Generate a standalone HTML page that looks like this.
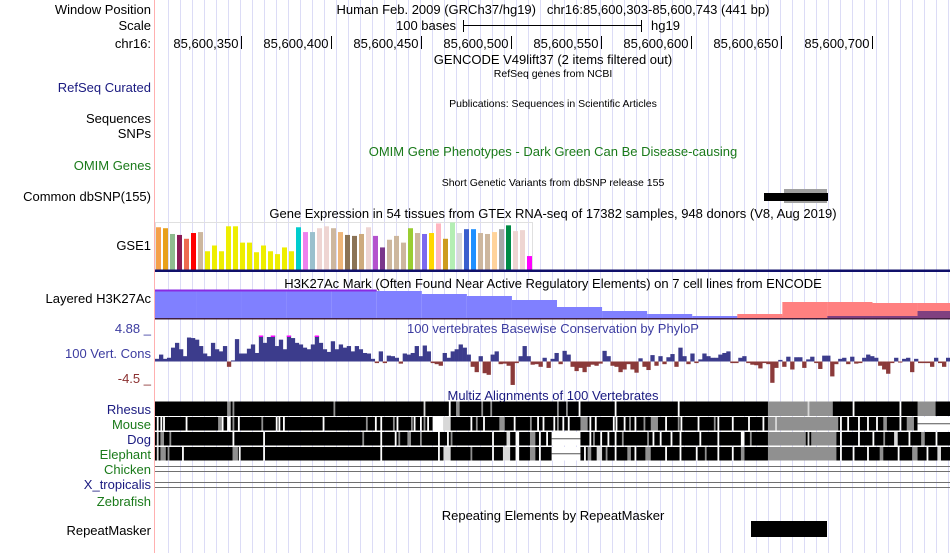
<!DOCTYPE html>
<html><head><meta charset="utf-8">
<style>
html,body{margin:0;padding:0;background:#fff;}
svg{display:block;font-family:"Liberation Sans",sans-serif;}
</style></head>
<body>
<svg id="chart" width="950" height="553" viewBox="0 0 950 553" xmlns="http://www.w3.org/2000/svg">
<g id="guides"></g>
<line x1="154.5" y1="0" x2="154.5" y2="553" stroke="#ffb0b0"/>
<g font-size="13" text-anchor="end">
<text x="151" y="14">Window Position</text>
<text x="151" y="30">Scale</text>
<text x="151" y="48">chr16:</text>
<text x="151" y="92" fill="#1a1a80">RefSeq Curated</text>
<text x="151" y="123">Sequences</text>
<text x="151" y="138">SNPs</text>
<text x="151" y="170" fill="#1a7a1a">OMIM Genes</text>
<text x="151" y="201">Common dbSNP(155)</text>
<text x="151" y="250">GSE1</text>
<text x="151" y="303">Layered H3K27Ac</text>
<text x="151" y="333" fill="#3c3ca0">4.88 _</text>
<text x="151" y="358" fill="#3c3ca0">100 Vert. Cons</text>
<text x="151" y="383" fill="#8b3030">-4.5 _</text>
<text x="151" y="414" fill="#1a1a80">Rhesus</text>
<text x="151" y="429" fill="#1a7a1a">Mouse</text>
<text x="151" y="444" fill="#1a1a80">Dog</text>
<text x="151" y="459" fill="#1a7a1a">Elephant</text>
<text x="151" y="474" fill="#1a7a1a">Chicken</text>
<text x="151" y="489" fill="#1a1a80">X_tropicalis</text>
<text x="151" y="506" fill="#1a7a1a">Zebrafish</text>
<text x="151" y="535">RepeatMasker</text>
</g>
<g text-anchor="middle">
<text x="553" y="14" font-size="13">Human Feb. 2009 (GRCh37/hg19)&#160;&#160;&#160;chr16:85,600,303-85,600,743 (441 bp)</text>
<text x="553" y="64" font-size="13">GENCODE V49lift37 (2 items filtered out)</text>
<text x="553" y="77" font-size="10.5">RefSeq genes from NCBI</text>
<text x="553" y="107" font-size="10.5">Publications: Sequences in Scientific Articles</text>
<text x="553" y="156" font-size="13" fill="#1a7a1a">OMIM Gene Phenotypes - Dark Green Can Be Disease-causing</text>
<text x="553" y="186" font-size="10.5">Short Genetic Variants from dbSNP release 155</text>
<text x="553" y="218" font-size="13">Gene Expression in 54 tissues from GTEx RNA-seq of 17382 samples, 948 donors (V8, Aug 2019)</text>
<text x="553" y="288" font-size="13">H3K27Ac Mark (Often Found Near Active Regulatory Elements) on 7 cell lines from ENCODE</text>
<text x="553" y="333" font-size="13" fill="#3c3ca0">100 vertebrates Basewise Conservation by PhyloP</text>
<text x="553" y="400" font-size="13" fill="#1a1a80">Multiz Alignments of 100 Vertebrates</text>
<text x="553" y="520" font-size="13">Repeating Elements by RepeatMasker</text>
</g>
<g>
<text x="456" y="30" font-size="13" text-anchor="end">100 bases</text>
<line x1="463.5" y1="20" x2="463.5" y2="32" stroke="#000"/>
<line x1="463" y1="25.5" x2="642" y2="25.5" stroke="#000"/>
<line x1="641.5" y1="20" x2="641.5" y2="32" stroke="#000"/>
<text x="651" y="30" font-size="13">hg19</text>
</g>
<g id="ruler"></g>
<g>
<rect x="784" y="189" width="43" height="14" fill="#a0a0a0"/>
<rect x="764" y="193" width="64" height="8" fill="#000"/>
</g>
<rect x="155.5" y="222.5" width="377" height="48" fill="none" stroke="#e0e0e0"/>
<g id="gtex"></g>
<rect x="155" y="269.5" width="795" height="2.5" fill="#10106a"/>
<g id="h3k"></g>
<g id="cons"></g>
<g id="multiz"></g>
<rect x="751" y="521" width="76" height="16" fill="#000"/>
</svg>
<script>
var NS="http://www.w3.org/2000/svg";
var START_BP=85600303, N_BP=441, X0=155, X1=950;
function xScale(bp){return X0+(bp)*(X1-X0)/N_BP;}
function mk(tag,attrs,parent){var e=document.createElementNS(NS,tag);for(var k in attrs)e.setAttribute(k,attrs[k]);parent.appendChild(e);return e;}

/* ruler */
var rulerTicks=[85600350,85600400,85600450,85600500,85600550,85600600,85600650,85600700];
var rulerLabels=["85,600,350","85,600,400","85,600,450","85,600,500","85,600,550","85,600,600","85,600,650","85,600,700"];
/* GTEx */
var gtexValues=[44,43,37,36,32,38,39,19,25,19,45,45,28,28,18,25,19,16,23,19,44,39,39,43,45,43,39,36,35,37,44,35,23,31,35,28,43,38,37,38,48,32,49,38,42,42,38,37,39,42,46,40,41,14];
var gtexColors=["#f5a04a","#e8a01a","#8fbc8f","#8b1a55","#ee6a50","#ff0000","#cdb79e","#eeee00","#eeee00","#eeee00","#eeee00","#eeee00","#eeee00","#eeee00","#eeee00","#eeee00","#eeee00","#eeee00","#eeee00","#eeee00","#00cdcd","#ee82ee","#9ac0cd","#eed5d2","#eed5d2","#cdb79e","#eeb67a","#8b7355","#8b7355","#cdaa7d","#eed5d2","#b452cd","#7a378b","#cdb79e","#cdb79e","#cdb79e","#9acd32","#cdb79e","#7b68ee","#ffd700","#ffb6c1","#cd9b1d","#b4eeb4","#d9d9d9","#3a5fcd","#1e90ff","#cdb79e","#cdb79e","#ffd39b","#a6a6a6","#008b45","#eed5d2","#eed5d2","#ff00ff"];
/* H3K27Ac layers, 25bp bins starting at bp -2 */
var h3kBlue=[27,27,27,27,27,27,24,22,18,11,7,4,2,2,2,2,2,2];
var h3kPink=[0,0,0,0,0,0,0,0,0,0,0,0,0,4,16,16,15,15];
var h3kPurple=[0,0,0,0,0,0,0,0,0,0,0,0,0,0,0,2,2,7];
/* PhyloP scores, one per bin */
var phylop=[0.5,1.3,0.5,0.7,2.6,3.5,2.3,1.0,4.5,4.4,4.1,2.9,1.5,1.0,3.5,2.3,1.9,2.9,-1.0,0.2,4.2,1.5,1.5,2.4,3.2,1.6,4.9,3.5,4.6,4.9,2.9,4.1,2.3,4.9,4.4,3.5,3.2,2.6,2.3,3.2,4.8,3.5,2.3,1.8,3.8,2.3,3.2,2.6,2.9,1.9,
2.9,2.3,1.6,1.5,0.5,-0.3,1.9,-0.3,1.1,1.0,0.7,-0.4,1.5,1.3,1.6,2.9,1.0,3.0,1.9,-0.3,-0.5,-0.8,1.6,0.7,1.9,2.3,3.2,2.6,1.3,-1.0,-2.0,1.0,-2.2,-2.5,1.3,1.9,-0.5,-0.4,-0.8,-4.4,-0.3,1.0,2.9,1.0,-0.6,-0.5,-1.0,0.7,-1.2,0.5,
1.6,-0.5,2.0,1.3,-1.0,-1.8,-1.2,-2.0,-1.0,-0.6,-0.8,-0.4,2.0,1.0,-0.8,-1.0,-2.0,-1.5,-0.5,-1.5,-2.1,0.6,-1.0,-1.6,1.2,-0.8,1.0,-0.5,0.8,1.4,-1.0,2.6,1.0,-0.5,1.5,-0.3,0.4,1.5,1.0,0.7,0.7,1.3,1.6,1.9,-0.3,-0.3,0.7,1.0,-0.3,-0.6,
-0.7,-1.3,-0.3,-0.5,-4.0,-1.2,0.3,-1.0,0.9,-1.5,0.8,0.8,-1.2,0.4,0.9,-0.3,-1.4,1.1,1.1,-2.8,-0.5,0.5,0.7,-0.5,0.9,-0.4,-0.3,0.7,1.3,1.0,0.7,-0.8,-1.5,-2.3,-0.3,0.7,-0.2,0.5,0.7,-2.0,0.5,-0.3,-0.3,-0.3,-1.0,0.7,-0.3,-1.0,0.7];
var consMax=4.88, consMin=-4.5;
/* Multiz: [startBp, endBp, kind] kind: g=gray, w=white, l=light, n=line(gap) */
var rhesusExtent=[0,441];
var rhesusBlocks=[[40,42,"g"],[43,44,"g"],[99,100,"g"],[149,150,"l"],[163,164,"w"],[167,169,"g"],[181,182,"g"],[186,187,"g"],[223,224,"g"],[228,229,"g"],[235,236,"w"],[255,256,"w"],[290,291,"w"],[340,376,"g"],[362,363,"l"],[387,388,"w"],[413,414,"w"],[423,433,"g"]];
var mouseExtent=[0,423];
var mouseBlocks=[[1,2,"w"],[3,4,"w"],[4.5,5.5,"w"],[17,18,"w"],[35,37,"g"],[37,38,"w"],[40,42,"w"],[43,44,"g"],[46,47,"w"],[59,60,"g"],[67,68,"w"],[68.5,69.5,"w"],[71,72,"w"],[93,94,"w"],[117,118,"g"],[122,123,"w"],[125,126,"w"],[132,133,"g"],[134,135,"w"],[142,143,"g"],[143.5,144.5,"w"],[147,148,"w"],[149,150,"g"],[151,152,"w"],[154,160,"w"],[160,164,"l"],[175,176,"w"],[178,179,"g"],[182,183,"w"],[191,194,"g"],[199,200,"w"],[208,209,"g"],[212,213,"w"],[215,216,"w"],[221,222,"w"],[223,224,"g"],[226,227,"w"],[229,230,"w"],[236,240,"g"],[241,242,"w"],[244,245,"w"],[254,255,"w"],[255.5,256.5,"w"],[260,261,"w"],[263,264,"g"],[266,267,"w"],[271,272,"g"],[275,279,"g"],[283,284,"w"],[290,291,"g"],[291.5,292.5,"w"],[301,302,"w"],[310,311,"g"],[312,313,"w"],[320,321,"w"],[329,330,"w"],[337,338,"w"],[340,379,"g"],[344,345,"l"],[380,381,"w"],[384,385,"w"],[390,391,"w"],[395,396,"w"],[400,401,"w"],[404,406,"g"],[413,414,"w"],[417,421,"g"],[423,441,"n"]];
var dogExtent=[0,441];
var dogBlocks=[[1,2,"l"],[3,5,"g"],[8,9,"g"],[43,44,"w"],[60,61,"w"],[115,116,"g"],[125,126,"w"],[133,134,"w"],[135,136,"g"],[140,142,"g"],[147,148,"g"],[157,158,"w"],[162,163,"w"],[164,165,"g"],[187,188,"w"],[195,197,"l"],[200,202,"w"],[208,211,"g"],[213,214,"w"],[217,218,"w"],[220,236,"n"],[241,242,"w"],[243,244,"g"],[247,248,"w"],[251,252,"w"],[255,256,"w"],[259,260,"g"],[273,274,"g"],[276,277,"w"],[280,281,"w"],[286,287,"w"],[291,292,"w"],[302,303,"w"],[312,313,"w"],[325,327,"w"],[330,331,"g"],[340,361,"g"],[362,363,"l"],[364,378,"g"],[380,381,"w"],[390,391,"w"],[398,399,"w"],[404,405,"g"],[410,412,"l"],[418,419,"w"],[425,427,"g"],[433,434,"w"]];
var elephantExtent=[0,441];
var elephantBlocks=[[1,2,"l"],[3,6,"g"],[7,8,"g"],[15,16,"w"],[43,46,"g"],[46.5,47.5,"w"],[60,61,"w"],[125,126,"w"],[157,158,"w"],[160,164,"l"],[175,176,"g"],[187,188,"w"],[193,197,"l"],[200,202,"w"],[208,211,"g"],[213,214,"w"],[220,236,"n"],[238,239,"w"],[240,242,"g"],[245,248,"l"],[250,251,"g"],[255,256,"w"],[262,264,"g"],[266,267,"w"],[272,275,"g"],[283,284,"w"],[291,292,"w"],[300,301,"w"],[305,306,"g"],[312,313,"w"],[320,321,"w"],[325,327,"g"],[340,378,"g"],[380,381,"w"],[387,388,"w"],[395,396,"w"],[402,404,"g"],[412,413,"w"],[420,423,"g"],[428,429,"w"],[434,436,"l"]];

/* guides */
var gG=document.getElementById('guides');
for(var gx=168;gx<950;gx+=12){
  var gl=mk('line',{x1:gx+0.5,y1:0,x2:gx+0.5,y2:553,stroke:'#dcdcf6'},gG);
  
  
}
/* ruler */
var rG=document.getElementById('ruler');
rulerTicks.forEach(function(t,i){
  var x=Math.round(xScale(t-START_BP+0.5))+0.5;
  var tk=mk('line',{x1:x,y1:36,x2:x,y2:49,stroke:'#000'},rG);
  
  
  var tx=mk('text',{x:x-3,y:48,'font-size':13,'text-anchor':'end'},rG);
  tx.textContent=rulerLabels[i];
  
  
});
/* gtex */
var gtG=document.getElementById('gtex');
var gtexMax=50, gtexH=48, gtexBase=269.5, gtexStep=7;
gtexValues.forEach(function(v,i){
  var h=v/gtexMax*gtexH;
  var b=mk('rect',{x:156+i*gtexStep,y:gtexBase-h,width:5,height:h,fill:gtexColors[i]},gtG);
  
  
});
/* h3k27ac */
var hG=document.getElementById('h3k');
var hBase=318;
function layer(arr,color,name){
  arr.forEach(function(v,i){
    if(v<=0)return;
    var xa=Math.max(X0,xScale(-2+i*25)), xb=Math.min(X1,xScale(-2+(i+1)*25));
    var r=mk('rect',{x:xa,y:hBase-v,width:xb-xa,height:v,fill:color},hG);
    
    
  });
}
layer(h3kBlue,'#8080ff','h3k27ac-huvec-layer');
layer(h3kPink,'#ff8080','h3k27ac-nhek-layer');
layer(h3kPurple,'#804080','h3k27ac-overlap-layer');
(function(){
  var xb=xScale(-2+5*25);
  var pl=mk('rect',{x:X0,y:hBase-h3kBlue[0]-1.5,width:xb-X0,height:2,fill:'#8a2be2'},hG);
  
  
  var bl=mk('rect',{x:X0,y:hBase,width:X1-X0,height:1.5,fill:'#402040'},hG);
  
  
})();
/* conservation */
var cG=document.getElementById('cons');
var zeroY=361.5, pxPerUnit=26/4.88;
function consY(v){return zeroY-v*pxPerUnit;}
var binW=(X1-X0)/phylop.length;
phylop.forEach(function(v,i){
  var x=X0+i*binW;
  var vv=Math.max(consMin,Math.min(consMax,v));
  var h=Math.abs(consY(vv)-zeroY);
  if(h<1)h=1;
  var r=mk('rect',{x:x,y:vv>=0?zeroY-h:zeroY,width:binW+0.3,height:h,fill:v>=0?'#3c3c8c':'#8b3a3a'},cG);
  
  
  if(v>=consMax-0.1){
    var m=mk('rect',{x:x,y:consY(consMax),width:binW,height:1.5,fill:'#ff00ff'},cG);
    
    
  }
});
/* multiz */
var mG=document.getElementById('multiz');
var kindColor={g:'#909090',w:'#ffffff',l:'#d8d8d8'};
function row(extent,blocks,y0,h,name){
  var a=xScale(extent[0]), b=xScale(extent[1]);
  var r=mk('rect',{x:a,y:y0,width:b-a,height:h,fill:'#000'},mG);
  
  
  blocks.forEach(function(bk){
    var xa=xScale(bk[0]), xb=xScale(bk[1]);
    if(bk[2]==='n'){
      var w=mk('rect',{x:xa,y:y0,width:xb-xa,height:h,fill:'#fff'},mG);
      
      
      var ln=mk('line',{x1:xa,y1:y0+h/2,x2:xb,y2:y0+h/2,stroke:'#555'},mG);
      
      
    } else {
      var s=mk('rect',{x:xa,y:y0,width:Math.max(1,xb-xa),height:h,fill:kindColor[bk[2]]},mG);
      
      
    }
  });
}
row(rhesusExtent,rhesusBlocks,401.5,14.5,'rhesus');
row(mouseExtent,mouseBlocks,417,13.5,'mouse');
row(dogExtent,dogBlocks,432,13.5,'dog');
row(elephantExtent,elephantBlocks,447,13.5,'elephant');
[466,471,482,487].forEach(function(y){
  var ln=mk('line',{x1:X0,y1:y+0.5,x2:X1,y2:y+0.5,stroke:'#707070'},mG);
  
  
});
</script>
</body></html>
